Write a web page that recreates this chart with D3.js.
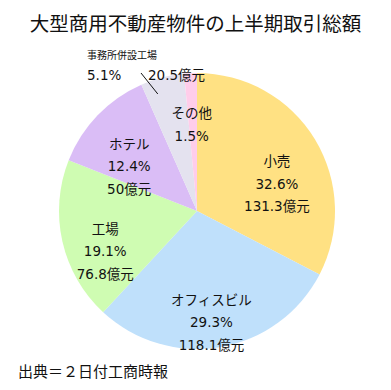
<!DOCTYPE html>
<html>
<meta charset="utf-8">
<head>
<script src="https://d3js.org/d3.v7.min.js"></script>
<style>
  body { margin: 0; background: #fff; }
  text { font-family: "DejaVu Sans", "Noto Sans CJK JP", sans-serif; fill: #111; }
  .head { font-family: "Noto Sans CJK JP", sans-serif; }
</style>
</head>
<body>
<div id="chart"></div>
<script>
// chart data
var categories = ["小売", "オフィスビル", "工場", "ホテル", "事務所併設工場", "その他"];
var shares = [32.6, 29.3, 19.1, 12.4, 5.1, 1.5];
var amounts = [131.3, 118.1, 76.8, 50, 20.5, null];
var title = "大型商用不動産物件の上半期取引総額";
var source = "出典＝２日付工商時報";

// layout
var width = 391, height = 390;
var cx = 197, cy = 211, radius = 138, labelRadius = 90, lineGap = 22.5;
var colors = ["#ffe183", "#bfe0fb", "#cffcb2", "#dabdf6", "#e4e2ef", "#ffcdea"];
// small nudges of each inside label block from its centroid
var nudges = [[3, -3], [-1, 0], [-4, -2], [-3, -5], [0, 0], [-1, -8]];
var outsideIndex = 4;

var svg = d3.select("#chart").append("svg")
    .attr("width", width)
    .attr("height", height);

svg.append("text")
    .attr("class", "head")
    .attr("x", width / 2)
    .attr("y", 22)
    .attr("text-anchor", "middle")
    .attr("dominant-baseline", "central")
    .style("font-size", "19.5px")
    .text(title);

var data = categories.map(function(c, i) {
  return {name: c, share: shares[i], amount: amounts[i], i: i};
});

var pie = d3.pie().sort(null).value(function(d) { return d.share; });
var arc = d3.arc().innerRadius(0).outerRadius(radius);
var labelArc = d3.arc().innerRadius(labelRadius).outerRadius(labelRadius);
var leaderArc = d3.arc().innerRadius(124).outerRadius(124);

var g = svg.append("g").attr("transform", "translate(" + cx + "," + cy + ")");
var arcs = pie(data);

g.selectAll("path.slice")
  .data(arcs)
  .enter().append("path")
    .attr("class", "slice")
    .attr("d", arc)
    .attr("fill", function(d) { return colors[d.data.i]; });

function lines(d) {
  var out = [d.name, d.share.toFixed(1) + "%"];
  if (d.amount != null) out.push(d.amount + "億元");
  return out;
}

// inside labels
arcs.forEach(function(a) {
  var d = a.data;
  if (d.i === outsideIndex) return;
  var c = labelArc.centroid(a);
  var x = c[0] + nudges[d.i][0], y = c[1] + nudges[d.i][1];
  var t = g.append("text")
      .attr("text-anchor", "middle")
      .style("font-size", "13.5px");
  lines(d).forEach(function(s, k) {
    t.append("tspan")
      .attr("x", x)
      .attr("y", y + k * lineGap)
      .attr("dominant-baseline", "central")
      .text(s);
  });
});

// outside label for the thin slice
var od = arcs[outsideIndex];
var end = leaderArc.centroid(od);
var lx = 87 - cx, ly = 55 - cy;
g.append("text")
    .attr("x", lx).attr("y", ly)
    .attr("dominant-baseline", "central")
    .style("font-size", "10px")
    .text(od.data.name);
g.append("text")
    .attr("x", lx).attr("y", ly + 20)
    .attr("dominant-baseline", "central")
    .style("font-size", "13.5px")
    .text(od.data.share.toFixed(1) + "%");
g.append("text")
    .attr("x", lx + 61).attr("y", ly + 20)
    .attr("dominant-baseline", "central")
    .style("font-size", "13.5px")
    .text(od.data.amount + "億元");
g.append("line")
    .attr("x1", 141 - cx).attr("y1", 73 - cy)
    .attr("x2", end[0] - 8).attr("y2", end[1] + 3)
    .attr("stroke", "#111")
    .attr("stroke-width", 1);

svg.append("text")
    .attr("class", "head")
    .attr("x", 18)
    .attr("y", 370)
    .attr("dominant-baseline", "central")
    .style("font-size", "15px")
    .text(source);
</script>
</body>
</html>
